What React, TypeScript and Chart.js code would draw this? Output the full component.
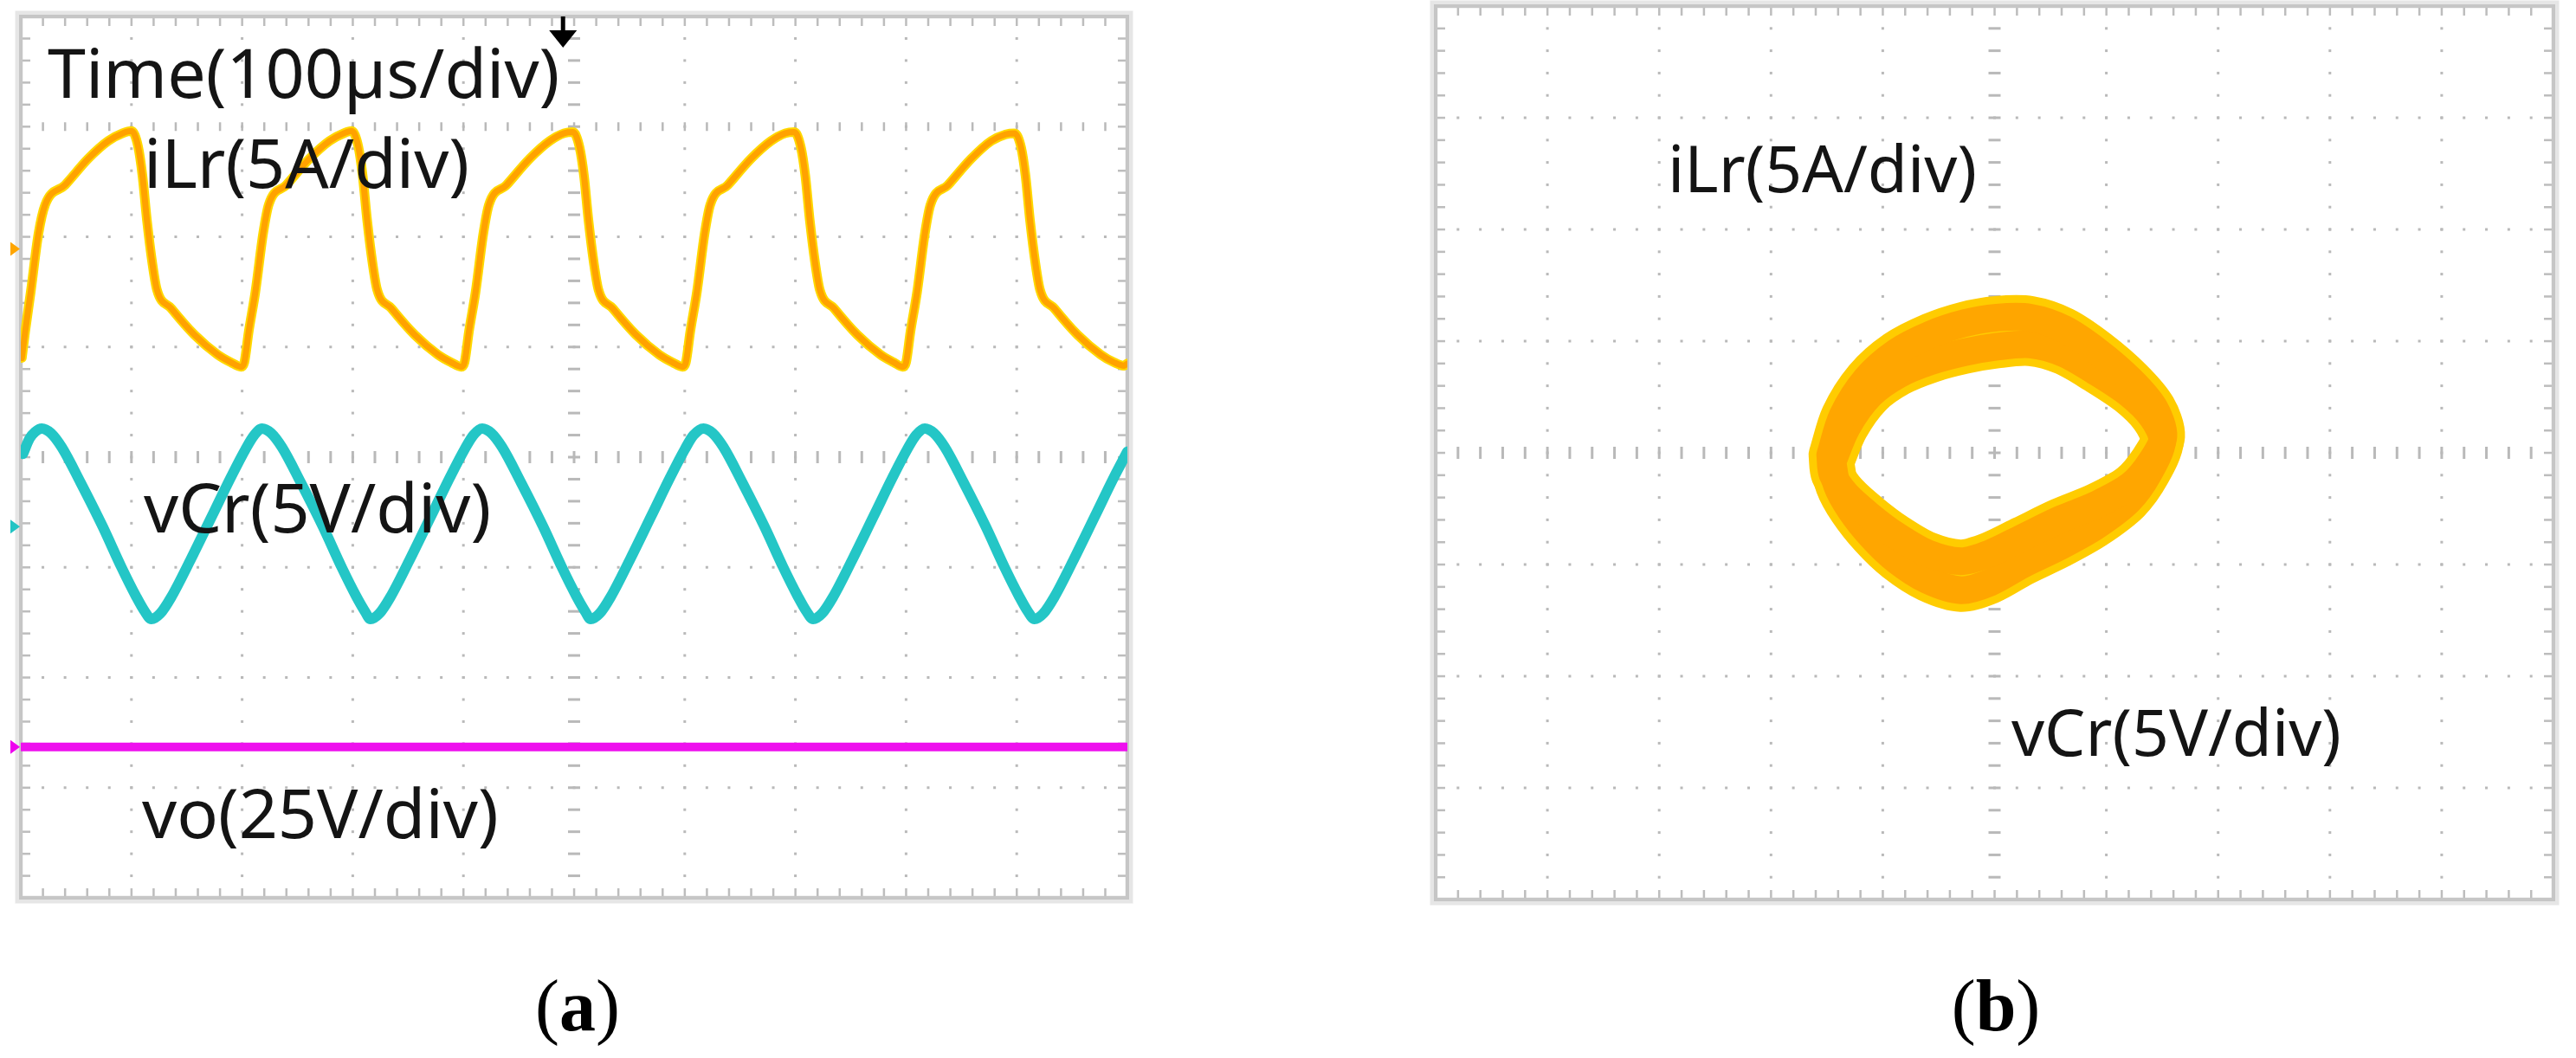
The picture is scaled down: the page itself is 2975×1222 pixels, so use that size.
import React, { useEffect, useRef } from "react";
import { Chart, registerables } from "chart.js";

Chart.register(...registerables);

// ---------- Panel (a): time-domain traces (x in µs, 100 µs/div; y in screen divisions 0..8) ----------
const timeRangeUs = [0, 1000];
const divRangeA = [0, 8];

const iLrTrace: number[][] = [
  [1, 4.9], [4, 5.14], [9, 5.5], [16, 6.03], [22, 6.29], [40, 6.47], [61, 6.71], [79, 6.87], [92, 6.94],
  [100, 6.96], [106, 6.82], [110, 6.55], [114, 6.15], [119, 5.75], [123, 5.52], [136, 5.35], [157, 5.11], [178, 4.93], [190, 4.86], [199, 4.82],
  [202, 4.86], [206, 5.14], [212, 5.5], [219, 6.03], [224, 6.29], [240, 6.47], [261, 6.71], [279, 6.87], [292, 6.94],
  [299, 6.96], [305, 6.82], [309, 6.55], [313, 6.15], [318, 5.75], [322, 5.52], [335, 5.35], [356, 5.11], [377, 4.93], [389, 4.86], [398, 4.82],
  [401, 4.86], [405, 5.14], [411, 5.5], [418, 6.03], [423, 6.29], [439, 6.47], [460, 6.71], [478, 6.87], [491, 6.94],
  [499, 6.95], [505, 6.81], [509, 6.55], [513, 6.15], [518, 5.75], [522, 5.52], [535, 5.35], [556, 5.11], [577, 4.93], [589, 4.86], [598, 4.82],
  [601, 4.86], [605, 5.14], [611, 5.5], [618, 6.03], [623, 6.29], [639, 6.47], [660, 6.71], [678, 6.87], [691, 6.94],
  [699, 6.95], [705, 6.81], [709, 6.55], [713, 6.15], [718, 5.75], [722, 5.52], [735, 5.35], [756, 5.11], [777, 4.93], [789, 4.86], [797, 4.82],
  [800, 4.86], [804, 5.14], [810, 5.5], [817, 6.03], [822, 6.29], [838, 6.47], [859, 6.71], [877, 6.87], [890, 6.93],
  [898, 6.94], [904, 6.81], [908, 6.55], [912, 6.15], [917, 5.75], [921, 5.52], [934, 5.35], [955, 5.11], [976, 4.93], [988, 4.86], [997, 4.83],
  [1000, 4.85],
];

const vCrTrace: number[][] = [
  [2, 4.03], [8, 4.17], [13, 4.23], [19, 4.26], [27, 4.22], [37, 4.09], [54, 3.77], [74, 3.37], [91, 3.0], [104, 2.74], [112, 2.6], [118, 2.53],
  [126, 2.58], [136, 2.73], [153, 3.06], [173, 3.47], [190, 3.82], [203, 4.07], [211, 4.2], [218, 4.26],
  [226, 4.22], [236, 4.09], [253, 3.77], [273, 3.37], [290, 3.0], [303, 2.74], [311, 2.6], [316, 2.53],
  [324, 2.58], [334, 2.73], [351, 3.06], [371, 3.47], [388, 3.82], [401, 4.07], [409, 4.2], [417, 4.26],
  [425, 4.22], [435, 4.09], [452, 3.77], [472, 3.37], [489, 3.0], [502, 2.74], [510, 2.6], [515, 2.53],
  [523, 2.58], [533, 2.73], [550, 3.06], [570, 3.47], [587, 3.82], [600, 4.07], [608, 4.2], [617, 4.26],
  [625, 4.22], [635, 4.09], [652, 3.77], [672, 3.37], [689, 3.0], [702, 2.74], [710, 2.6], [716, 2.53],
  [724, 2.58], [734, 2.73], [751, 3.06], [771, 3.47], [788, 3.82], [801, 4.07], [809, 4.2], [817, 4.26],
  [825, 4.22], [835, 4.09], [852, 3.77], [872, 3.37], [889, 3.0], [902, 2.74], [910, 2.6], [916, 2.53],
  [924, 2.58], [934, 2.73], [951, 3.06], [971, 3.47], [988, 3.82], [1000, 4.05],
];

const voTrace: number[][] = [
  [0, 1.37], [250, 1.37], [500, 1.37], [750, 1.37], [1000, 1.37],
];

// channel ground markers on the left edge (divisions)
const channelMarkers = [5.89, 3.37, 1.37];
const triggerPositionUs = 490;

// ---------- Panel (b): XY mode, x = vCr, y = iLr (divisions from centre) ----------
const xyRangeX = [-5, 5];
const xyRangeY = [-4, 4];

const loopUpper: number[][] = [
  [-1.47, -0.02], [-1.36, 0.33], [-1.15, 0.66], [-0.88, 0.9], [-0.57, 1.06], [-0.27, 1.16], [0.02, 1.21], [0.32, 1.21],
  [0.62, 1.11], [0.92, 0.91], [1.22, 0.65], [1.43, 0.4], [1.51, 0.15], [1.4, -0.08], [1.22, -0.29], [0.92, -0.46],
  [0.58, -0.6], [0.25, -0.76], [-0.04, -0.9], [-0.3, -0.97], [-0.6, -0.9], [-0.88, -0.74], [-1.12, -0.56],
  [-1.33, -0.37], [-1.45, -0.19], [-1.47, -0.02],
];

const loopLower: number[][] = [
  [-1.45, -0.08], [-1.32, 0.23], [-1.11, 0.52], [-0.86, 0.7], [-0.57, 0.82], [-0.27, 0.9], [0.02, 0.95], [0.32, 0.97],
  [0.62, 0.89], [0.9, 0.73], [1.2, 0.53], [1.41, 0.32], [1.5, 0.11], [1.38, -0.18], [1.2, -0.43], [0.9, -0.66],
  [0.58, -0.84], [0.25, -1.0], [-0.04, -1.16], [-0.3, -1.23], [-0.6, -1.14], [-0.88, -0.96], [-1.1, -0.75],
  [-1.29, -0.51], [-1.41, -0.29], [-1.45, -0.08],
];

const toXY = (arr: number[][]) => arr.map(([x, y]) => ({ x, y }));

// ---------- graticule plugin ----------
function makeGraticule(extraTickRow: number | null, drawExtras: ((c: any) => void) | null) {
  return {
    id: "graticule",
    beforeDatasetsDraw(chart: any) {
      const { ctx, chartArea } = chart;
      const { left, right, top, bottom } = chartArea;
      const xs = chart.scales.x;
      const ys = chart.scales.y;
      const xAt = (f: number) => xs.getPixelForValue(xs.min + f * (xs.max - xs.min));
      const yAt = (f: number) => ys.getPixelForValue(ys.max - f * (ys.max - ys.min));
      ctx.save();
      ctx.fillStyle = "#b9b9b9";
      for (let i = 1; i < 10; i++) {
        const x = xAt(i / 10);
        for (let j = 1; j < 40; j++) {
          const y = yAt(j / 40);
          if (i === 5) ctx.fillRect(x - 7, y - 1.5, 14, 3);
          else ctx.fillRect(x - 1.5, y - 1.5, 3, 3);
        }
      }
      for (let j = 1; j < 8; j++) {
        const y = yAt(j / 8);
        for (let i = 1; i < 50; i++) {
          const x = xAt(i / 50);
          if (j === 4) ctx.fillRect(x - 1.5, y - 7, 3, 14);
          else if (extraTickRow !== null && j === extraTickRow) ctx.fillRect(x - 1.2, y - 5, 2.5, 10);
          else ctx.fillRect(x - 1.5, y - 1.5, 3, 3);
        }
      }
      ctx.fillStyle = "#bdbdbd";
      for (let i = 1; i < 50; i++) {
        const x = xAt(i / 50);
        ctx.fillRect(x - 1.2, top, 2.5, 11);
        ctx.fillRect(x - 1.2, bottom - 11, 2.5, 11);
      }
      for (let j = 1; j < 40; j++) {
        const y = yAt(j / 40);
        ctx.fillRect(left, y - 1.2, 11, 2.5);
        ctx.fillRect(right - 11, y - 1.2, 11, 2.5);
      }
      ctx.strokeStyle = "rgba(200,200,200,0.45)";
      ctx.lineWidth = 9;
      ctx.strokeRect(left - 2, top - 2, right - left + 4, bottom - top + 4);
      ctx.strokeStyle = "#c6c6c6";
      ctx.lineWidth = 4;
      ctx.strokeRect(left, top, right - left, bottom - top);
      ctx.restore();
    },
    afterDraw(chart: any) {
      if (drawExtras) drawExtras(chart);
    },
  };
}

function drawPanelAExtras(chart: any) {
  const { ctx, chartArea } = chart;
  const xs = chart.scales.x;
  const ys = chart.scales.y;
  const colors = ["#FFA500", "#22C4C4", "#EE00EE"];
  ctx.save();
  channelMarkers.forEach((v, k) => {
    const y = ys.getPixelForValue(v);
    ctx.fillStyle = colors[k];
    ctx.beginPath();
    ctx.moveTo(chartArea.left - 12, y - 8);
    ctx.lineTo(chartArea.left - 1, y);
    ctx.lineTo(chartArea.left - 12, y + 8);
    ctx.closePath();
    ctx.fill();
  });
  const tx = xs.getPixelForValue(triggerPositionUs);
  const t = chartArea.top;
  ctx.fillStyle = "#000";
  ctx.fillRect(tx - 2.5, t, 5, 20);
  ctx.beginPath();
  ctx.moveTo(tx - 16, t + 16);
  ctx.lineTo(tx + 16, t + 16);
  ctx.lineTo(tx, t + 36);
  ctx.closePath();
  ctx.fill();
  ctx.restore();
}

function baseOptions(padding: any, xr: number[], yr: number[]) {
  return {
    animation: false,
    responsive: false,
    maintainAspectRatio: false,
    layout: { padding },
    plugins: { legend: { display: false }, tooltip: { enabled: false } },
    elements: {
      point: { radius: 0 },
      line: { borderJoinStyle: "round", borderCapStyle: "round", tension: 0 },
    },
    scales: {
      x: { type: "linear", min: xr[0], max: xr[1], display: false },
      y: { type: "linear", min: yr[0], max: yr[1], display: false },
    },
  };
}

const PANEL_A_W = 1487;
const PANEL_B_W = 1488;
const PAGE_H = 1222;

export default function App() {
  const refA = useRef<HTMLCanvasElement | null>(null);
  const refB = useRef<HTMLCanvasElement | null>(null);

  useEffect(() => {
    const chartA = new Chart(refA.current as HTMLCanvasElement, {
      type: "line",
      data: {
        datasets: [
          { data: toXY(iLrTrace), borderColor: "#FFA200", borderWidth: 7, order: 0, cubicInterpolationMode: "monotone" },
          { data: toXY(iLrTrace), borderColor: "#FFD800", borderWidth: 11, order: 1, cubicInterpolationMode: "monotone" },
          { data: toXY(vCrTrace), borderColor: "#24C6C6", borderWidth: 12, order: 2, cubicInterpolationMode: "monotone" },
          { data: toXY(voTrace), borderColor: "#EE10EE", borderWidth: 10, order: 3 },
        ],
      },
      options: baseOptions({ left: 24, right: PANEL_A_W - 1302, top: 19, bottom: PAGE_H - 1037 }, timeRangeUs, divRangeA) as any,
      plugins: [makeGraticule(1, drawPanelAExtras)],
    } as any);

    const chartB = new Chart(refB.current as HTMLCanvasElement, {
      type: "line",
      data: {
        datasets: [
          { data: toXY(loopUpper), borderColor: "#FFA600", borderWidth: 32, order: 0, tension: 0.3 },
          { data: toXY(loopLower), borderColor: "#FFA600", borderWidth: 32, order: 1, tension: 0.3 },
          { data: toXY(loopUpper), borderColor: "#FFCC00", borderWidth: 50, order: 2, tension: 0.3 },
          { data: toXY(loopLower), borderColor: "#FFCC00", borderWidth: 50, order: 3, tension: 0.3 },
        ],
      },
      options: baseOptions({ left: 1658 - PANEL_A_W, right: 2975 - 2949, top: 7, bottom: PAGE_H - 1039 }, xyRangeX, xyRangeY) as any,
      plugins: [makeGraticule(null, null)],
    } as any);

    return () => {
      chartA.destroy();
      chartB.destroy();
    };
  }, []);

  const sans = "'Noto Sans', 'Open Sans', sans-serif";
  const serif = "'Liberation Serif', 'Times New Roman', serif";

  return (
    <div style={{ position: "absolute", left: 0, top: 0, width: 2975, height: PAGE_H, background: "#fff", overflow: "hidden" }}>
      <canvas ref={refA} width={PANEL_A_W} height={PAGE_H} style={{ position: "absolute", left: 0, top: 0, width: PANEL_A_W, height: PAGE_H }} />
      <canvas ref={refB} width={PANEL_B_W} height={PAGE_H} style={{ position: "absolute", left: PANEL_A_W, top: 0, width: PANEL_B_W, height: PAGE_H }} />
      <svg width={2975} height={PAGE_H} style={{ position: "absolute", left: 0, top: 0, pointerEvents: "none" }}>
        <g fontFamily={sans} fill="#141414">
          <text x={55} y={113} fontSize={79}>Time(100µs/div)</text>
          <text x={166} y={217} fontSize={79}>iLr(5A/div)</text>
          <text x={166} y={615} fontSize={79}>vCr(5V/div)</text>
          <text x={164} y={968} fontSize={79}>vo(25V/div)</text>
          <text x={1926} y={222} fontSize={75}>iLr(5A/div)</text>
          <text x={2323} y={873} fontSize={75}>vCr(5V/div)</text>
        </g>
        <g fontFamily={serif} fill="#000" fontSize={84}>
          <text x={667} y={1190} textAnchor="middle">(<tspan fontWeight="bold">a</tspan>)</text>
          <text x={2305} y={1190} textAnchor="middle">(<tspan fontWeight="bold">b</tspan>)</text>
        </g>
      </svg>
    </div>
  );
}
